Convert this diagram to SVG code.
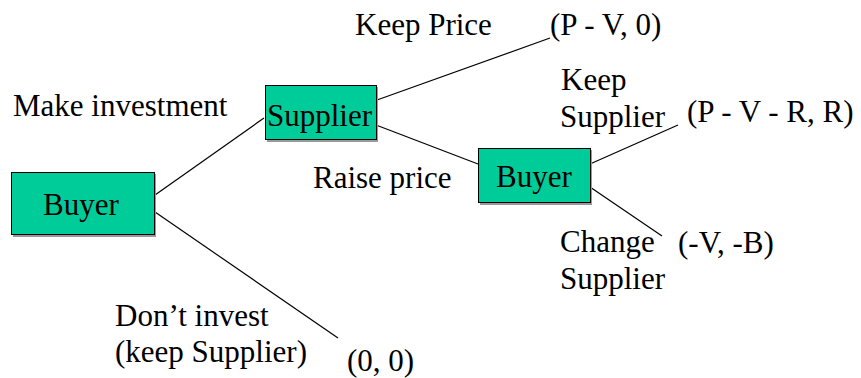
<svg xmlns="http://www.w3.org/2000/svg" width="861" height="378" viewBox="0 0 861 378">
  <style>
    .box { fill: #00CC99; stroke: #000; stroke-width: 1; }
    .shadow { fill: #999; }
    .edge { stroke: #000; stroke-width: 1.2; fill: none; }
    .t { font-family: "Times New Roman", Times, Tinos, "Liberation Serif", "Noto Serif", FreeSerif, "DejaVu Serif", serif; font-size: 31px; fill: #000; }
  </style>
  <rect width="861" height="378" fill="#fff"/>

  <!-- branches of the game tree -->
  <g id="connectors">
    <line class="edge" x1="155" y1="195" x2="264" y2="118"/>
    <line class="edge" x1="155" y1="212" x2="338" y2="338"/>
    <line class="edge" x1="377" y1="100" x2="550" y2="38"/>
    <line class="edge" x1="376" y1="125" x2="478" y2="164"/>
    <line class="edge" x1="590" y1="164" x2="678" y2="125"/>
    <line class="edge" x1="590" y1="187" x2="662" y2="236"/>
  </g>

  <g class="t">
    <g id="buyer-root">
      <rect class="shadow" x="13" y="174" width="143" height="63"/>
      <rect class="box" x="11.5" y="172.5" width="143" height="62"/>
      <text x="43" y="215">Buyer</text>
    </g>

    <g id="supplier">
      <rect class="shadow" x="267" y="87" width="111" height="55"/>
      <rect class="box" x="265.5" y="85.5" width="111" height="54"/>
      <text x="267" y="126">Supplier</text>
    </g>

    <g id="buyer-second">
      <rect class="shadow" x="480" y="150" width="112" height="55"/>
      <rect class="box" x="478.5" y="148.5" width="112" height="54"/>
      <text x="496" y="187">Buyer</text>
    </g>

    <!-- move labels -->
    <g id="labels">
      <text x="13" y="116">Make investment</text>
      <text x="355" y="35">Keep Price</text>
      <text x="313" y="188">Raise price</text>
      <text x="561" y="90">Keep</text>
      <text x="560" y="127">Supplier</text>
      <text x="560" y="252">Change</text>
      <text x="560" y="289">Supplier</text>
      <text x="115" y="326">Don’t invest</text>
      <text x="115" y="362">(keep Supplier)</text>
    </g>

    <!-- payoffs -->
    <g id="payoffs">
      <text x="550" y="35">(P - V, 0)</text>
      <text x="687" y="122">(P - V - R, R)</text>
      <text x="678" y="253">(-V, -B)</text>
      <text x="347" y="371">(0, 0)</text>
    </g>
  </g>
</svg>
